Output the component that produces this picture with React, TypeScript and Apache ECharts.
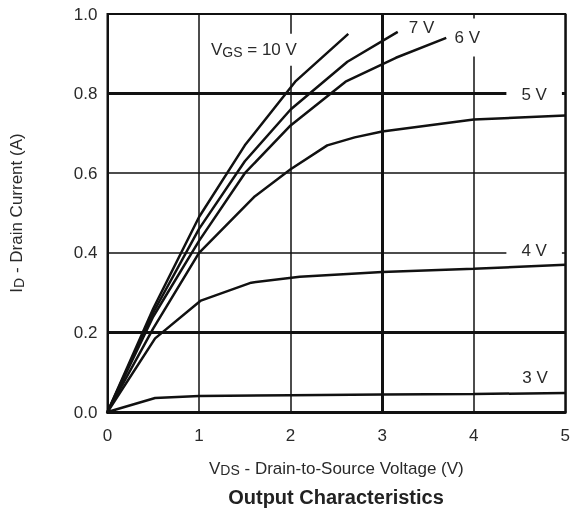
import React, { useEffect, useRef } from "react";
import * as echarts from "echarts";

const thickY = [0.2, 0.8];
const thickX = [3];

const vds10 = [0, 0.5, 1, 1.5, 2.05, 2.63];
const id10 = [0, 0.26, 0.49, 0.67, 0.83, 0.95];
const vds7 = [0, 0.5, 1, 1.5, 2, 2.62, 3.17];
const id7 = [0, 0.25, 0.46, 0.63, 0.76, 0.88, 0.955];
const vds6 = [0, 0.5, 1, 1.5, 2, 2.6, 3.15, 3.7];
const id6 = [0, 0.24, 0.43, 0.6, 0.72, 0.83, 0.89, 0.94];
const vds5 = [0, 0.5, 1, 1.6, 2, 2.4, 2.7, 3, 4, 5];
const id5 = [0, 0.21, 0.4, 0.54, 0.61, 0.67, 0.69, 0.705, 0.735, 0.745];
const vds4 = [0, 0.52, 1.02, 1.57, 2.1, 3, 4, 5];
const id4 = [0, 0.185, 0.28, 0.325, 0.34, 0.352, 0.36, 0.37];
const vds3 = [0, 0.52, 1, 2, 3, 4, 5];
const id3 = [0, 0.035, 0.04, 0.042, 0.044, 0.045, 0.048];

const curveLabels = ["VGS = 10 V", "7 V", "6 V", "5 V", "4 V", "3 V"];
const labelPos: [number, number][] = [
  [1.13, 0.91],
  [3.43, 0.965],
  [3.93, 0.941],
  [4.66, 0.797],
  [4.66, 0.405],
  [4.67, 0.086],
];

const FONT = "'Liberation Sans', Arial, sans-serif";
const TXT = "#2a2a2a";
const LINE = "#111";

const zip = (xs: number[], ys: number[]) => xs.map((x, i) => [x, ys[i]]);

const richSub = {
  v: { fontSize: 17, fontFamily: FONT, color: TXT, lineHeight: 18, verticalAlign: "middle" },
  s: { fontSize: 14, fontFamily: FONT, color: TXT, lineHeight: 8, verticalAlign: "bottom" },
};

export default function App() {
  const ref = useRef<HTMLDivElement>(null);
  useEffect(() => {
    if (!ref.current) return;
    const chart = echarts.init(ref.current, undefined, { renderer: "svg" });
    const curves = [
      zip(vds10, id10),
      zip(vds7, id7),
      zip(vds6, id6),
      zip(vds5, id5),
      zip(vds4, id4),
      zip(vds3, id3),
    ];
    const curveSeries = curves.map((d) => ({
      type: "line",
      data: d,
      showSymbol: false,
      symbol: "none",
      lineStyle: { color: LINE, width: 2.5 },
      z: 3,
    }));
    const pads: any[] = [
      [7, 3, 7, 0],
      [2, 2, 2, 2],
      [10, 2, 10, 2],
      [6, 15, 6, 15],
      [2, 15, 2, 15],
      [2, 4, 2, 4],
    ];
    const labelData = labelPos.map((p, i) => ({
      coord: p,
      symbol: "circle",
      symbolSize: 1,
      itemStyle: { color: "rgba(0,0,0,0)" },
      label: {
        show: true,
        position: "inside",
        align: i === 0 ? "left" : "center",
        verticalAlign: "middle",
        backgroundColor: "#fff",
        padding: pads[i],
        formatter:
          i === 0 ? "{v|V}{s|GS}{v| = 10 V}" : "{v|" + curveLabels[i] + "}",
        rich: richSub,
      },
    }));
    const option: any = {
      animation: false,
      grid: {
        left: 105,
        right: 6,
        top: 14,
        bottom: 101,
        show: true,
        borderColor: LINE,
        borderWidth: 2,
        backgroundColor: "#fff",
      },
      xAxis: {
        type: "value",
        min: 0,
        max: 5,
        interval: 1,
        axisLine: { show: true, onZero: false, lineStyle: { color: LINE, width: 3 } },
        axisTick: { show: false },
        splitLine: { show: true, lineStyle: { color: LINE, width: 1.5 } },
        axisLabel: {
          margin: 15,
          fontSize: 17,
          fontFamily: FONT,
          color: TXT,
          formatter: (v: number) => String(v),
        },
        name: "{v|V}{s|DS}{v| - Drain-to-Source Voltage (V)}",
        nameLocation: "middle",
        nameGap: 47,
        nameTextStyle: { rich: richSub },
      },
      yAxis: {
        type: "value",
        min: 0,
        max: 1,
        interval: 0.2,
        axisLine: { show: true, lineStyle: { color: LINE, width: 2 } },
        axisTick: { show: false },
        splitLine: { show: true, lineStyle: { color: LINE, width: 1.5 } },
        axisLabel: {
          margin: 10,
          fontSize: 17,
          fontFamily: FONT,
          color: TXT,
          formatter: (v: number) => v.toFixed(1),
        },
        name: "{v|I}{s|D}{v| - Drain Current (A)}",
        nameLocation: "middle",
        nameGap: 82,
        nameTextStyle: { rich: richSub },
      },
      graphic: [
        {
          type: "text",
          x: 336,
          y: 497,
          style: {
            text: "Output Characteristics",
            font: "bold 20px " + FONT,
            fill: "#222",
            align: "center",
            verticalAlign: "middle",
          },
        },
      ],
      series: [
        {
          type: "line",
          data: [],
          z: 2,
          silent: true,
          markLine: {
            symbol: "none",
            silent: true,
            z: 2,
            label: { show: false },
            lineStyle: { color: LINE, width: 3, type: "solid" },
            data: [
              ...thickY.map((y) => ({ yAxis: y })),
              ...thickX.map((x) => ({ xAxis: x })),
            ],
          },
        },
        ...curveSeries,
        {
          type: "scatter",
          data: [],
          z: 2.5,
          silent: true,
          markPoint: {
            silent: true,
            z: 2.5,
            data: labelData,
          },
        },
      ],
    };
    chart.setOption(option);
    return () => chart.dispose();
  }, []);
  return (
    <div
      ref={ref}
      style={{ position: "fixed", left: 0, top: 0, width: 573, height: 513 }}
    />
  );
}
